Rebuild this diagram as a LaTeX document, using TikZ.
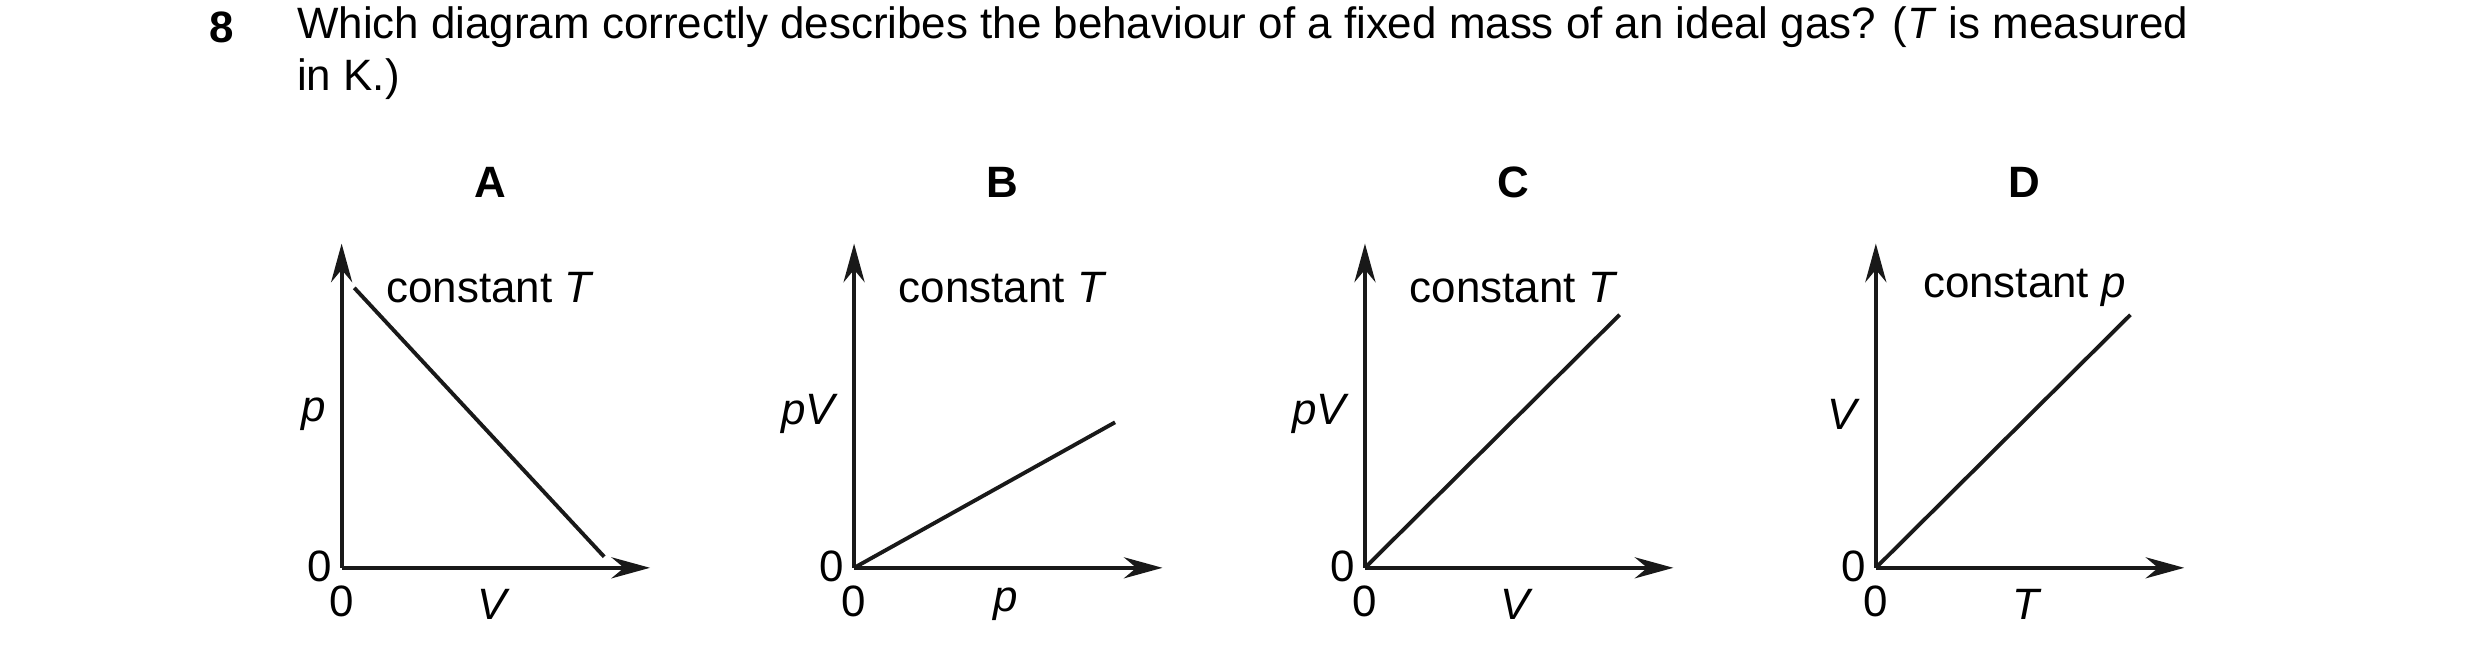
\documentclass[tikz,border=0pt]{standalone}
\usepackage{fontspec}
\setmainfont{Liberation Sans}
\usetikzlibrary{arrows.meta,positioning}

\begin{document}
\begin{tikzpicture}[x=0.015816cm, y=-0.015816cm, thick, black!90, text=black,
	   every node/.style={font=\fontsize{12.5}{15}\selectfont, inner sep=0pt},
	   axis/.style={line width=1.1pt, -{Stealth[length=11pt,width=6pt]}},
	   graph/.style={line width=1.1pt},
	   letter/.style={font=\fontsize{12.5}{15}\selectfont\bfseries}]
	\useasboundingbox (0,0) rectangle (1568,423);
	%% Question
	\node[font=\fontsize{12.5}{15}\selectfont\bfseries] (num) at (140,17) {8};
	\node[anchor=west] (q1) at (187,17) {Which diagram correctly describes the behaviour of a fixed mass of an ideal gas? (\textit{T} is measured};
	\node[anchor=west] (q2) at (187,50) {in K.)};
	%% Panels: x offset / letter / y label / x label / line end / line start / note
	\foreach \ox/\lt/\ylab/\xlab/\ex/\ey/\sx/\sy/\note in {
	    216/A/p/V/382/352/224/182/{constant \textit{T}},
	    540/B/pV/p/705/267/540/359/{constant \textit{T}},
	    863/C/pV/V/1024/199/863/359/{constant \textit{T}},
	    1186/D/V/T/1347/199/1186/359/{constant \textit{p}}} {
		\coordinate (o\lt) at (\ox,359);
		\coordinate (ytip\lt) at (\ox,154);
		\coordinate (xtip\lt) at (\ox+195,359);
		\coordinate (s\lt) at (\sx,\sy);
		\coordinate (e\lt) at (\ex,\ey);
		\node[letter] (lbl\lt) at (\ox+94,115) {\lt};
		\node (note\lt) at (\ox+94,182) {\note};
		\node[anchor=east] (yl\lt) at (\ox-9,262) {\textit{\ylab}};
		\node (xl\lt) at (\ox+96,382) {\textit{\xlab}};
		\node (zy\lt) at (\ox-14,358) {0};
		\node (zx\lt) at (\ox,380) {0};
		\draw[axis] (o\lt) -- (ytip\lt);
		\draw[axis] (o\lt) -- (xtip\lt);
		\draw[graph] (s\lt) -- (e\lt);
	}
\end{tikzpicture}
\end{document}
